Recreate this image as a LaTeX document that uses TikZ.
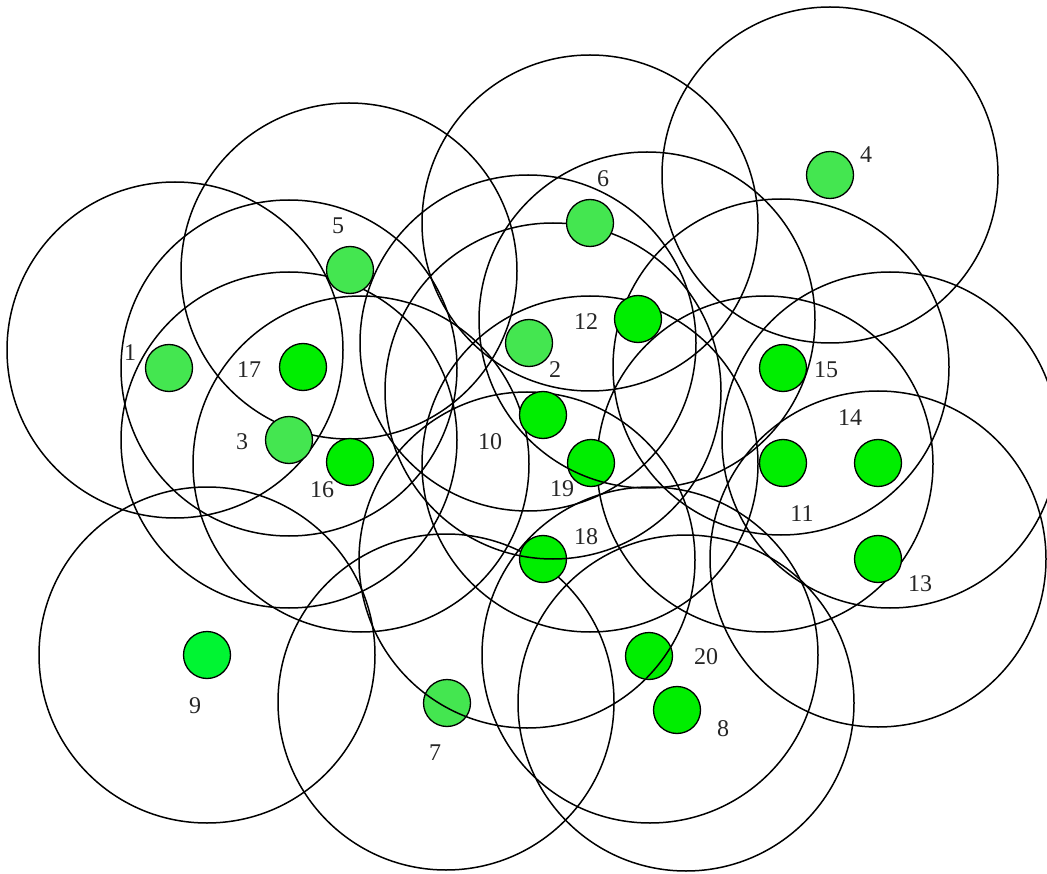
\documentclass[tikz,border=0pt]{standalone}
\usepackage{fontspec}
\setmainfont{Liberation Serif}
\definecolor{lgreen}{RGB}{68,230,80}
\definecolor{bgreen}{RGB}{0,238,0}
\definecolor{ngreen}{RGB}{0,245,50}
\tikzset{
  rangecircle/.style={draw=black, line width=1.5pt},
  dot/.style={circle, draw=black, line width=1.3pt, minimum size=47pt, inner sep=0pt},
  lab/.style={font=\fontsize{24}{24}\selectfont, text=black!85, inner sep=0pt}
}
\begin{document}
\begin{tikzpicture}[x=1pt,y=-1pt]
\useasboundingbox (0,0) rectangle (1047,874);
% centres of the range circles
\coordinate (c1) at (175,350);
\coordinate (c2) at (528,343);
\coordinate (c3) at (289,440);
\coordinate (c4) at (830,175);
\coordinate (c5) at (349,271);
\coordinate (c6) at (590,223);
\coordinate (c7) at (446,702);
\coordinate (c8) at (686,703);
\coordinate (c9) at (207,655);
\coordinate (c10) at (553,391);
\coordinate (c11) at (765,464);
\coordinate (c12) at (647,320);
\coordinate (c13) at (878,559);
\coordinate (c14) at (890,440);
\coordinate (c15) at (781,367);
\coordinate (c16) at (361,464);
\coordinate (c17) at (289,368);
\coordinate (c18) at (527,560);
\coordinate (c19) at (590,464);
\coordinate (c20) at (650,655);
\foreach \i in {1,...,20} {
  \draw[rangecircle] (c\i) circle[radius=168pt];
}
% nodes
\node[dot, fill=lgreen] (n1) at (169,368) {};
\node[dot, fill=lgreen] (n2) at (529,343) {};
\node[dot, fill=lgreen] (n3) at (289,440) {};
\node[dot, fill=lgreen] (n4) at (830,175) {};
\node[dot, fill=lgreen] (n5) at (350,270) {};
\node[dot, fill=lgreen] (n6) at (590,223) {};
\node[dot, fill=lgreen] (n7) at (447,703) {};
\node[dot, fill=bgreen] (n8) at (677,710) {};
\node[dot, fill=ngreen] (n9) at (207,655) {};
\node[dot, fill=bgreen] (n10) at (543,415) {};
\node[dot, fill=bgreen] (n11) at (783,463) {};
\node[dot, fill=bgreen] (n12) at (638,319) {};
\node[dot, fill=bgreen] (n13) at (878,559) {};
\node[dot, fill=bgreen] (n14) at (878,463) {};
\node[dot, fill=bgreen] (n15) at (783,368) {};
\node[dot, fill=bgreen] (n16) at (350,462) {};
\node[dot, fill=bgreen] (n17) at (303,367) {};
\node[dot, fill=bgreen] (n18) at (543,559) {};
\node[dot, fill=bgreen] (n19) at (591,463) {};
\node[dot, fill=bgreen] (n20) at (649,656) {};
% circle arcs that lie over some nodes
\begin{scope}
  \clip (n7.center) circle[radius=23pt] (n20.center) circle[radius=23pt];
  \draw[rangecircle] (c18) circle[radius=168pt];
\end{scope}
\begin{scope}
  \clip (n18.center) circle[radius=23pt];
  \draw[rangecircle] (c10) circle[radius=168pt];
\end{scope}
\begin{scope}
  \clip (n19.center) circle[radius=23pt];
  \draw[rangecircle] (c12) circle[radius=168pt];
\end{scope}
% labels
\node[lab] (l1) at (130,353) {1};
\node[lab] (l2) at (555,370) {2};
\node[lab] (l3) at (242,442) {3};
\node[lab] (l4) at (866,155) {4};
\node[lab] (l5) at (338,226) {5};
\node[lab] (l6) at (603,179) {6};
\node[lab] (l7) at (435,753) {7};
\node[lab] (l8) at (723,729) {8};
\node[lab] (l9) at (195,706) {9};
\node[lab] (l10) at (490,442) {10};
\node[lab] (l11) at (802,514) {11};
\node[lab] (l12) at (586,322) {12};
\node[lab] (l13) at (920,584) {13};
\node[lab] (l14) at (850,418) {14};
\node[lab] (l15) at (826,370) {15};
\node[lab] (l16) at (322,490) {16};
\node[lab] (l17) at (249,370) {17};
\node[lab] (l18) at (586,537) {18};
\node[lab] (l19) at (562,489) {19};
\node[lab] (l20) at (706,657) {20};
\end{tikzpicture}
\end{document}
